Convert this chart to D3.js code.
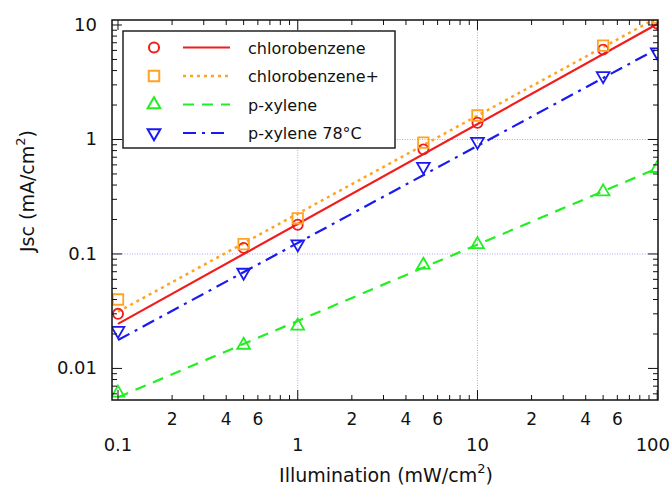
<!DOCTYPE html>
<html>
<head>
<meta charset="utf-8">
<script src="https://cdn.jsdelivr.net/npm/d3@7"></script>
<style>
  body { margin: 0; background: #fff; }
  text { font-family: "DejaVu Sans", sans-serif; fill: #111; }
</style>
</head>
<body>
<script>
// illumination levels (mW/cm2)
const illum = [0.1, 0.5, 1, 5, 10, 50, 100];

// measured Jsc (mA/cm2)
const chloro     = [0.030, 0.113, 0.18, 0.82, 1.40, 6.1, 10.3];
const chloroPlus = [0.040, 0.122, 0.205, 0.94, 1.62, 6.6, 11.6];
const pxylene    = [0.0061, 0.016, 0.0235, 0.080, 0.121, 0.35, 0.56];
const pxylene78  = [0.0214, 0.069, 0.122, 0.58, 0.96, 3.6, 5.8];

// fitted lines, read at the ends of the x range
const fitX = [0.1, 100];
const chloroFit     = [0.0245, 10.2];
const chloroPlusFit = [0.0313, 11.6];
const pxyleneFit    = [0.0056, 0.56];
const pxylene78Fit  = [0.0177, 6.2];

const seriesNames = ["chlorobenzene", "chlorobenzene+", "p-xylene", "p-xylene 78\u00B0C"];

const xMajor = [0.1, 1, 10, 100];
const yMajor = [0.01, 0.1, 1, 10];
const xMinorLabels = [2, 4, 6];

const main = () => {
  const W = 672, H = 492;
  const left = 112, right = 658, top = 20, bottom = 400;

  const svg = d3.select("body").append("svg")
    .attr("width", W).attr("height", H);

  const x = d3.scaleLog().domain([0.0926, 101]).range([left, right]);
  const y = d3.scaleLog().domain([0.0053, 11.06]).range([bottom, top]);

  const series = [
    { name: seriesNames[0], vals: chloro, fit: chloroFit, color: "#f21c1c", dash: null, width: 2.2, mark: "circle" },
    { name: seriesNames[1], vals: chloroPlus, fit: chloroPlusFit, color: "#ffa322", dash: "3,4", width: 2.5, mark: "square" },
    { name: seriesNames[2], vals: pxylene, fit: pxyleneFit, color: "#22ee22", dash: "11,8", width: 2.2, mark: "triangle" },
    { name: seriesNames[3], vals: pxylene78, fit: pxylene78Fit, color: "#1a1af0", dash: "13,6,3,6", width: 2.2, mark: "triangleDown" }
  ];

  const symbolFor = {
    circle: d3.symbol().type(d3.symbolCircle).size(80),
    square: d3.symbol().type(d3.symbolSquare).size(110),
    triangle: d3.symbol().type(d3.symbolTriangle).size(70),
    triangleDown: d3.symbol().type(d3.symbolTriangle).size(70)
  };

  // grid
  const grid = svg.append("g");
  grid.selectAll(".gx").data(xMajor.slice(1, 3)).enter().append("line")
    .attr("x1", d => x(d)).attr("x2", d => x(d))
    .attr("y1", top).attr("y2", bottom)
    .attr("stroke", "#a8a8f8").attr("stroke-width", 1).attr("stroke-dasharray", "1,1.5");
  grid.selectAll(".gy").data(yMajor.slice(1, 3)).enter().append("line")
    .attr("x1", left).attr("x2", right)
    .attr("y1", d => y(d)).attr("y2", d => y(d))
    .attr("stroke", "#a8a8f8").attr("stroke-width", 1).attr("stroke-dasharray", "1,1.5");

  const plot = svg.append("g");
  svg.append("clipPath").attr("id", "clip").append("rect")
    .attr("x", left).attr("y", top).attr("width", right - left).attr("height", bottom - top);
  plot.attr("clip-path", "url(#clip)");

  const line = d3.line().x(d => x(d[0])).y(d => y(d[1]));

  series.forEach(s => {
    plot.append("path")
      .datum(fitX.map((v, i) => [v, s.fit[i]]))
      .attr("d", line)
      .attr("fill", "none")
      .attr("stroke", s.color)
      .attr("stroke-width", s.width)
      .attr("stroke-dasharray", s.dash);
  });

  series.forEach(s => {
    plot.selectAll(null).data(illum.map((v, i) => [v, s.vals[i]])).enter()
      .append("path")
      .attr("d", symbolFor[s.mark])
      .attr("transform", d => `translate(${x(d[0])},${y(d[1])})` + (s.mark === "triangleDown" ? " rotate(180)" : ""))
      .attr("fill", "none")
      .attr("stroke", s.color)
      .attr("stroke-width", 1.8);
  });

  // axes with inward ticks on all sides
  const xTicks = x.ticks();
  const yTicks = y.ticks();
  const isMajor = v => Math.abs(Math.log10(v) - Math.round(Math.log10(v))) < 1e-6;

  const axes = svg.append("g");
  const tickG = axes.append("g");
  xTicks.forEach(v => {
    const len = isMajor(v) ? 10 : 5;
    tickG.append("line").attr("x1", x(v)).attr("x2", x(v)).attr("y1", bottom).attr("y2", bottom - len);
    tickG.append("line").attr("x1", x(v)).attr("x2", x(v)).attr("y1", top).attr("y2", top + len);
  });
  yTicks.forEach(v => {
    const len = isMajor(v) ? 10 : 5;
    tickG.append("line").attr("y1", y(v)).attr("y2", y(v)).attr("x1", left).attr("x2", left + len);
    tickG.append("line").attr("y1", y(v)).attr("y2", y(v)).attr("x1", right).attr("x2", right - len);
  });
  tickG.selectAll("line").attr("stroke", "#111").attr("stroke-width", 1);

  axes.append("rect")
    .attr("x", left).attr("y", top).attr("width", right - left).attr("height", bottom - top)
    .attr("fill", "none").attr("stroke", "#111").attr("stroke-width", 1.5);

  // x labels (the last one is kept inside the page edge)
  svg.selectAll(".xl").data(xMajor).enter().append("text")
    .attr("x", (d, i) => i === xMajor.length - 1 ? W - 2 : x(d)).attr("y", 451)
    .attr("text-anchor", (d, i) => i === xMajor.length - 1 ? "end" : "middle")
    .attr("font-size", 18)
    .text(d => d3.format("~g")(d));
  const minorVals = [];
  [0.1, 1, 10].forEach(dec => xMinorLabels.forEach(m => minorVals.push([dec * m, m])));
  svg.selectAll(".xm").data(minorVals).enter().append("text")
    .attr("x", d => x(d[0])).attr("y", 425)
    .attr("text-anchor", "middle").attr("font-size", 17)
    .text(d => d[1]);

  // y labels
  svg.selectAll(".yl").data(yMajor).enter().append("text")
    .attr("x", 97).attr("y", d => y(d) + 6)
    .attr("text-anchor", "end").attr("font-size", 18)
    .text(d => d3.format("~g")(d));

  // axis titles
  const xt = svg.append("text").attr("x", 386).attr("y", 482)
    .attr("text-anchor", "middle").attr("font-size", 19);
  xt.append("tspan").text("Illumination (mW/cm");
  xt.append("tspan").attr("dy", -9).attr("font-size", 13).text("2");
  xt.append("tspan").attr("dy", 9).text(")");

  const yt = svg.append("text")
    .attr("transform", "translate(34,191) rotate(-90)")
    .attr("text-anchor", "middle").attr("font-size", 19);
  yt.append("tspan").text("Jsc (mA/cm");
  yt.append("tspan").attr("dy", -9).attr("font-size", 13).text("2");
  yt.append("tspan").attr("dy", 9).text(")");

  // legend
  const lg = svg.append("g");
  lg.append("rect").attr("x", 123).attr("y", 31).attr("width", 272).attr("height", 117)
    .attr("fill", "#fff").attr("stroke", "#222").attr("stroke-width", 1.5);
  series.forEach((s, i) => {
    const cy = 47.5 + i * 28.5;
    lg.append("path").attr("d", symbolFor[s.mark])
      .attr("transform", `translate(154,${cy})` + (s.mark === "triangleDown" ? " rotate(180)" : ""))
      .attr("fill", "none").attr("stroke", s.color).attr("stroke-width", 2);
    lg.append("line").attr("x1", 183).attr("x2", 230).attr("y1", cy).attr("y2", cy)
      .attr("stroke", s.color).attr("stroke-width", s.width).attr("stroke-dasharray", s.dash);
    lg.append("text").attr("x", 248).attr("y", cy + 6).attr("font-size", 16).text(s.name);
  });
};

window.onload = main;
</script>
</body>
</html>
